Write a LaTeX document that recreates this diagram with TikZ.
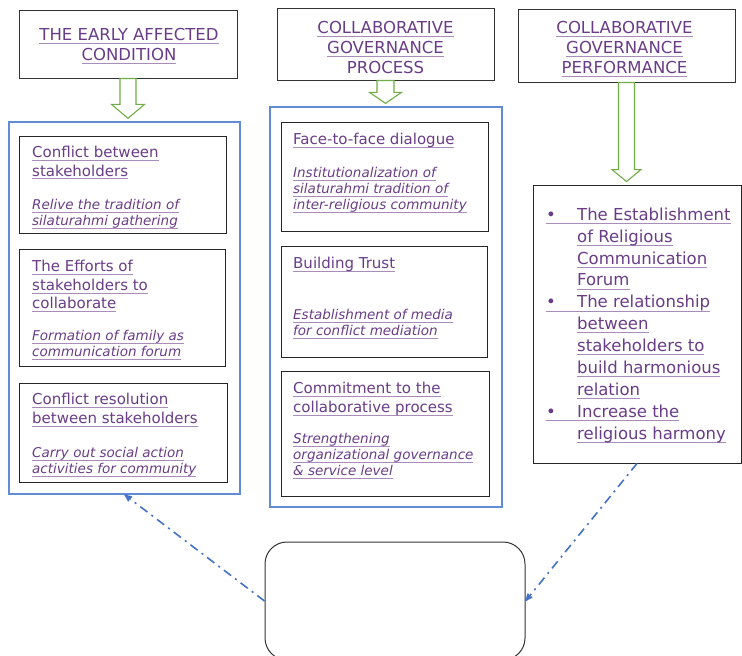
\documentclass[tikz,border=0pt]{standalone}
\usepackage{fontspec}
\setmainfont{DejaVu Sans}
\usetikzlibrary{arrows,calc}

\definecolor{txtpurple}{RGB}{105,60,135}
\definecolor{ulpurple}{RGB}{170,140,185}
\definecolor{boxblue}{RGB}{95,140,212}
\definecolor{arrowgreen}{RGB}{112,173,71}
\definecolor{linkblue}{RGB}{68,114,196}

% purple underline, lighter than the text
\newsavebox{\ulbox}
\newcommand{\ulp}[1]{\sbox{\ulbox}{#1}%
  \rlap{\textcolor{ulpurple}{\rule[-0.2em]{\wd\ulbox}{0.6pt}}}\usebox{\ulbox}}
% hollow green arrow from one node down to the next
\newcommand{\hollowdown}[5]{%
  \draw[hollow] let \p1=(#1.south), \p2=(#2.north) in
    (\x1-#3,\y1) -- (\x1+#3,\y1) -- (\x1+#3,\y2+#5) -- (\x1+#4,\y2+#5)
    -- (\x1,\y2+3pt) -- (\x1-#4,\y2+#5) -- (\x1-#3,\y2+#5) -- cycle;}

\begin{document}
\begin{tikzpicture}[x=1pt,y=-1pt,
    header/.style={draw=black!80,line width=0.9pt},
    title/.style={text=txtpurple,align=center,inner sep=0pt,
      font=\fontsize{16.5}{20}\selectfont},
    group/.style={draw=boxblue,line width=1.3pt},
    item/.style={draw=black!85,line width=0.9pt},
    result/.style={draw=black!85,line width=0.9pt},
    head/.style={anchor=north west,inner sep=0pt,align=left,text=txtpurple,
      font=\fontsize{15}{18.5}\selectfont},
    sub/.style={anchor=north west,inner sep=0pt,align=left,text=txtpurple,
      font=\fontsize{13.5}{16}\selectfont\itshape},
    hollow/.style={draw=arrowgreen,fill=white,line width=1.1pt,line join=miter},
    link/.style={draw=linkblue,line width=1.6pt,->,>=stealth',
      dash pattern=on 9pt off 5pt on 2pt off 5pt}]
  \clip (0,0) rectangle (742,656);

  % headers
  \node[header,minimum width=218pt,minimum height=68pt] (h1) at (128,44) {};
  \node[header,minimum width=217pt,minimum height=72pt] (h2) at (385.5,44) {};
  \node[header,minimum width=217pt,minimum height=73pt] (h3) at (626.5,45.5) {};
  \node[title] (h1t) at (129,46) {\ulp{THE EARLY AFFECTED}\\\ulp{CONDITION}};
  \node[title] (h2t) at (385.5,47.5) {\ulp{COLLABORATIVE}\\\ulp{GOVERNANCE}\\PROCESS};
  \node[title] (h3t) at (624.5,49) {\ulp{COLLABORATIVE}\\\ulp{GOVERNANCE}\\\ulp{PERFORMANCE}};

  % groups
  \node[group,minimum width=231pt,minimum height=372pt] (c1) at (124.5,308) {};
  \node[group,minimum width=232pt,minimum height=400pt] (c2) at (386,307) {};
  \node[result,minimum width=208pt,minimum height=278pt] (perf) at (637,324) {};
  \node[draw=black!80,line width=1pt,rounded corners=22pt,
    minimum width=260pt,minimum height=118pt] (fb) at (395,601) {};

  % first column
  \node[item,minimum width=207pt,minimum height=97pt] (l1) at (122.5,184.5) {};
  \node[item,minimum width=206pt,minimum height=117pt] (l2) at (122,307.5) {};
  \node[item,minimum width=208pt,minimum height=99pt] (l3) at (123,432.5) {};
  \node[head] (l1h) at (32,146) {\ulp{Conflict between}\\\ulp{stakeholders}};
  \node[sub] (l1s) at (32,199) {\ulp{Relive the tradition of}\\\ulp{silaturahmi gathering}};
  \node[head] (l2h) at (32,260) {\ulp{The Efforts of}\\\ulp{stakeholders to}\\\ulp{collaborate}};
  \node[sub] (l2s) at (32,330.5) {\ulp{Formation of family as}\\\ulp{communication forum}};
  \node[head] (l3h) at (32,393) {\ulp{Conflict resolution}\\\ulp{between stakeholders}};
  \node[sub] (l3s) at (32,447.5) {\ulp{Carry out social action}\\\ulp{activities for community}};

  % second column
  \node[item,minimum width=207pt,minimum height=109pt] (m1) at (384.5,176.5) {};
  \node[item,minimum width=206pt,minimum height=111pt] (m2) at (384,301.5) {};
  \node[item,minimum width=208pt,minimum height=125pt] (m3) at (385,433.5) {};
  \node[head] (m1h) at (293,133) {\ulp{Face-to-face dialogue}};
  \node[sub] (m1s) at (293,167.5) {\ulp{Institutionalization of}\\\ulp{silaturahmi tradition of}\\\ulp{inter-religious community}};
  \node[head] (m2h) at (293,257) {\ulp{Building Trust}};
  \node[sub] (m2s) at (293,309.5) {\ulp{Establishment of media}\\\ulp{for conflict mediation}};
  \node[head] (m3h) at (293,382) {\ulp{Commitment to the}\\\ulp{collaborative process}};
  \node[sub] (m3s) at (293,433.5) {\ulp{Strengthening}\\\ulp{organizational governance}\\\ulp{\& service level}};

  % third column
  \node[anchor=north west,inner sep=0pt,align=left,text=txtpurple,
    font=\fontsize{16.5}{21.9}\selectfont] (perft) at (546,207.5)
    {\ulp{\makebox[31pt][l]{•}The Establishment}\\
     \hspace*{31pt}\ulp{of Religious}\\
     \hspace*{31pt}\ulp{Communication}\\
     \hspace*{31pt}\ulp{Forum}\\
     \ulp{\makebox[31pt][l]{•}The relationship}\\
     \hspace*{31pt}\ulp{between}\\
     \hspace*{31pt}\ulp{stakeholders to}\\
     \hspace*{31pt}\ulp{build harmonious}\\
     \hspace*{31pt}\ulp{relation}\\
     \ulp{\makebox[31pt][l]{•}Increase the}\\
     \hspace*{31pt}\ulp{religious harmony}};

  % arrows
  \hollowdown{h1}{c1}{8pt}{16.5pt}{17pt}
  \hollowdown{h2}{c2}{8.5pt}{16pt}{14pt}
  \hollowdown{h3}{perf}{8pt}{14.5pt}{15pt}
  \draw[link] (fb.west) -- (c1.south);
  \draw[link] (perf.south) -- (fb.east);
\end{tikzpicture}
\end{document}
